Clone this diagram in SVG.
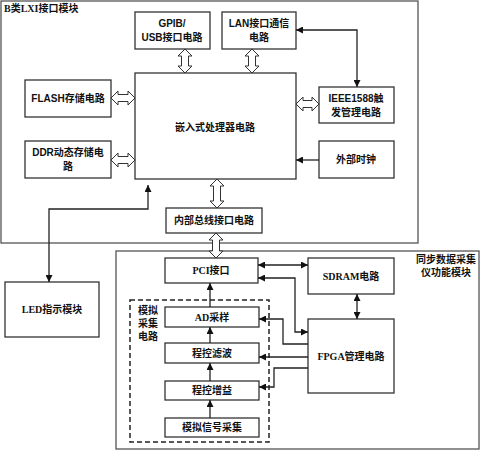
<svg xmlns="http://www.w3.org/2000/svg" width="480" height="450" viewBox="0 0 480 450">
<defs>
<style>
.box{fill:#fff;stroke:#333;stroke-width:1.3}
.mod{fill:none;stroke:#555;stroke-width:1.3}
.dash{fill:none;stroke:#222;stroke-width:1.5;stroke-dasharray:5,3}
.ha{fill:#fff;stroke:#333;stroke-width:1}
.ln{fill:none;stroke:#222;stroke-width:1.3}
.s{font-family:"Liberation Sans","Noto Sans CJK SC",sans-serif;font-size:10px;font-weight:bold;fill:#111;text-anchor:middle}
.r{font-family:"Liberation Serif","Noto Sans CJK SC",serif;font-size:10px;font-weight:bold;fill:#111;text-anchor:middle}
</style>
<marker id="ar" viewBox="0 0 10 10" refX="10" refY="5" markerWidth="7" markerHeight="7" orient="auto-start-reverse" markerUnits="userSpaceOnUse"><path d="M0,0 L10,5 L0,10 Z" fill="#111"/></marker>
</defs>
<g id="module-lxi"><rect class="mod" x="1" y="1" width="417" height="242"/><text class="r" x="4" y="12" style="text-anchor:start">B类LXI接口模块</text></g>
<g id="module-daq"><rect class="mod" x="116" y="251" width="363" height="198"/><text class="r" x="446" y="263">同步数据采集</text><text class="r" x="446" y="276">仪功能模块</text></g>
<g id="analog-group"><rect class="dash" x="130" y="300" width="139" height="142"/><text class="r" x="148" y="314">模拟</text><text class="r" x="148" y="327">采集</text><text class="r" x="148" y="340">电路</text></g>
<g id="gpib"><rect class="box" x="135" y="12" width="75" height="37"/><text class="s" x="172" y="27">GPIB/</text><text class="s" x="172" y="41">USB接口电路</text></g>
<g id="lan"><rect class="box" x="222" y="12" width="74" height="37"/><text class="s" x="259" y="27">LAN接口通信</text><text class="s" x="259" y="41">电路</text></g>
<g id="cpu"><rect class="box" x="135" y="73" width="161" height="106"/><text class="s" x="215" y="131">嵌入式处理器电路</text></g>
<g id="flash"><rect class="box" x="25" y="80" width="86" height="37"/><text class="s" x="68" y="102">FLASH存储电路</text></g>
<g id="ddr"><rect class="box" x="25" y="141" width="86" height="37"/><text class="s" x="68" y="156">DDR动态存储电</text><text class="s" x="68" y="170">路</text></g>
<g id="ieee"><rect class="box" x="319" y="87" width="75" height="36"/><text class="s" x="356" y="102">IEEE1588触</text><text class="s" x="356" y="116">发管理电路</text></g>
<g id="clock"><rect class="box" x="319" y="141" width="75" height="37"/><text class="s" x="356" y="163">外部时钟</text></g>
<g id="bus"><rect class="box" x="166" y="208" width="96" height="25"/><text class="s" x="214" y="224">内部总线接口电路</text></g>
<g id="led"><rect class="box" x="5" y="282" width="94" height="55"/><text class="r" x="52" y="313">LED指示模块</text></g>
<g id="pci"><rect class="box" x="165" y="258" width="93" height="25"/><text class="r" x="211" y="274">PCI接口</text></g>
<g id="ad"><rect class="box" x="165" y="307" width="94" height="20"/><text class="r" x="212" y="321">AD采样</text></g>
<g id="filter"><rect class="box" x="165" y="343" width="94" height="20"/><text class="r" x="212" y="357">程控滤波</text></g>
<g id="gain"><rect class="box" x="165" y="381" width="94" height="19"/><text class="r" x="212" y="394">程控增益</text></g>
<g id="signal"><rect class="box" x="165" y="418" width="94" height="19"/><text class="r" x="212" y="431">模拟信号采集</text></g>
<g id="sdram"><rect class="box" x="308" y="258" width="86" height="36"/><text class="r" x="351" y="280">SDRAM电路</text></g>
<g id="fpga"><rect class="box" x="308" y="319" width="86" height="74"/><text class="r" x="351" y="360">FPGA管理电路</text></g>
<g id="connectors">
<path class="ha" d="M185,49 L192,56 L188.5,56 L188.5,66 L192,66 L185,73 L178,66 L181.5,66 L181.5,56 L178,56 Z"/>
<path class="ha" d="M252,49 L259,56 L255.5,56 L255.5,66 L259,66 L252,73 L245,66 L248.5,66 L248.5,56 L245,56 Z"/>
<path class="ha" d="M217,179 L224,186 L220.5,186 L220.5,201 L224,201 L217,208 L210,201 L213.5,201 L213.5,186 L210,186 Z"/>
<path class="ha" d="M216,233 L223,240 L219.5,240 L219.5,251 L223,251 L216,258 L209,251 L212.5,251 L212.5,240 L209,240 Z"/>
<path class="ha" d="M111,98 L118,91 L118,94.5 L128,94.5 L128,91 L135,98 L128,105 L128,101.5 L118,101.5 L118,105 Z"/>
<path class="ha" d="M111,160 L118,153 L118,156.5 L128,156.5 L128,153 L135,160 L128,167 L128,163.5 L118,163.5 L118,167 Z"/>
<path class="ha" d="M296,104 L303,97 L303,100.5 L312,100.5 L312,97 L319,104 L312,111 L312,107.5 L303,107.5 L303,111 Z"/>
<path class="ln" d="M296,30 L357,30 L357,87" marker-start="url(#ar)" marker-end="url(#ar)"/>
<path class="ln" d="M319,160 L296,160" marker-end="url(#ar)"/>
<path class="ln" d="M148,185 L148,209 L49,209 L49,282" marker-start="url(#ar)" marker-end="url(#ar)"/>
<path class="ln" d="M258,265 L308,265" marker-start="url(#ar)" marker-end="url(#ar)"/>
<path class="ln" d="M258,278 L295,278 L295,332 L308,332" marker-start="url(#ar)" marker-end="url(#ar)"/>
<path class="ln" d="M357,294 L357,319" marker-start="url(#ar)" marker-end="url(#ar)"/>
<path class="ln" d="M308,344 L283,344 L283,319 L259,319" marker-end="url(#ar)"/>
<path class="ln" d="M308,357 L259,357" marker-end="url(#ar)"/>
<path class="ln" d="M308,368 L274,368 L274,387 L259,387" marker-end="url(#ar)"/>
<path class="ln" d="M210,418 L210,400" marker-end="url(#ar)"/>
<path class="ln" d="M210,381 L210,363" marker-end="url(#ar)"/>
<path class="ln" d="M210,343 L210,327" marker-end="url(#ar)"/>
<path class="ln" d="M210,307 L210,283" marker-end="url(#ar)"/>
</g>
</svg>
